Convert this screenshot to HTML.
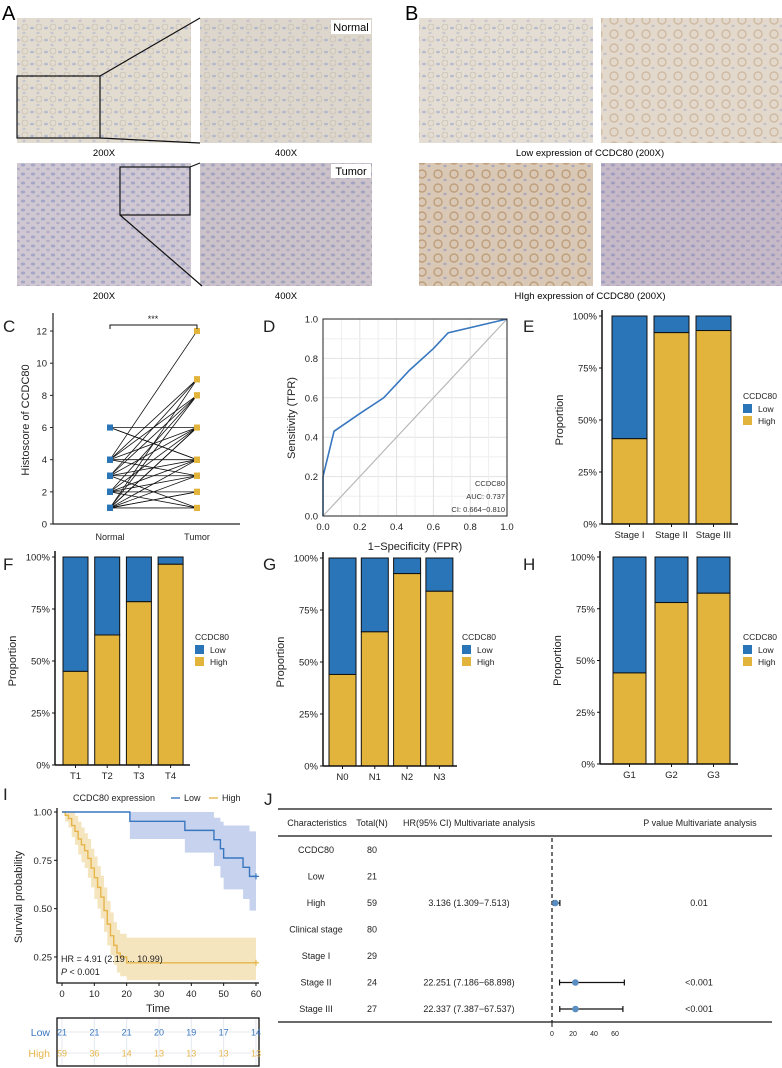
<!DOCTYPE html>
<html><head><meta charset="utf-8"><style>
html,body{margin:0;padding:0;background:#fff}
svg{display:block;font-family:"Liberation Sans",Arial,sans-serif}
</style></head><body>
<svg id="fig" width="782" height="1068" viewBox="0 0 782 1068" xmlns="http://www.w3.org/2000/svg">
<defs>
<pattern id="texN" width="14" height="12" patternUnits="userSpaceOnUse"><ellipse cx="4" cy="4" rx="2" ry="1.3" fill="#8c9ac8" opacity="0.5"/><ellipse cx="10" cy="9" rx="1.6" ry="1.2" fill="#9aa3cc" opacity="0.4"/><circle cx="11" cy="3" r="3" fill="none" stroke="#c9bfb0" stroke-width="0.8"/></pattern>
<pattern id="texT" width="10" height="9" patternUnits="userSpaceOnUse"><ellipse cx="3" cy="3" rx="2.2" ry="1.5" fill="#7a84b8" opacity="0.5"/><ellipse cx="8" cy="7" rx="1.8" ry="1.2" fill="#9089b6" opacity="0.45"/></pattern>
<pattern id="texH" width="16" height="14" patternUnits="userSpaceOnUse"><circle cx="6" cy="6" r="4" fill="none" stroke="#a4743e" stroke-width="1.4" opacity="0.5"/><ellipse cx="13" cy="12" rx="1.6" ry="1.2" fill="#7d88c0" opacity="0.5"/></pattern>
</defs>
<g id="photos">
<text x="2" y="20" font-size="20">A</text>
<text x="405" y="20" font-size="20">B</text>
<rect x="17" y="18" width="174" height="125" fill="#e2dbd0"/>
<rect x="17" y="18" width="174" height="125" fill="url(#texN)"/>
<rect x="200" y="18" width="172" height="125" fill="#ddd6cc"/>
<rect x="200" y="18" width="172" height="125" fill="url(#texN)"/>
<rect x="17" y="76" width="83" height="62" fill="none" stroke="#111" stroke-width="1.2"/>
<line x1="100" y1="76" x2="200" y2="18" stroke="#111" stroke-width="1.2"/>
<line x1="100" y1="138" x2="200" y2="143" stroke="#111" stroke-width="1.2"/>
<rect x="331" y="20" width="40" height="14" fill="#fff"/>
<text x="351" y="31" font-size="11" text-anchor="middle">Normal</text>
<text x="104" y="156" font-size="9.5" text-anchor="middle">200X</text>
<text x="286" y="156" font-size="9.5" text-anchor="middle">400X</text>
<rect x="17" y="163" width="174" height="123" fill="#cfc8d3"/>
<rect x="17" y="163" width="174" height="123" fill="url(#texT)"/>
<rect x="200" y="163" width="172" height="123" fill="#cbc3c9"/>
<rect x="200" y="163" width="172" height="123" fill="url(#texT)"/>
<rect x="120" y="167" width="70" height="48" fill="none" stroke="#111" stroke-width="1.2"/>
<line x1="190" y1="167" x2="200" y2="163" stroke="#111" stroke-width="1.2"/>
<line x1="120" y1="215" x2="202" y2="286" stroke="#111" stroke-width="1.2"/>
<rect x="331" y="164" width="40" height="14" fill="#fff"/>
<text x="351" y="175" font-size="11" text-anchor="middle">Tumor</text>
<text x="104" y="299" font-size="9.5" text-anchor="middle">200X</text>
<text x="286" y="299" font-size="9.5" text-anchor="middle">400X</text>
<rect x="419" y="18" width="174" height="125" fill="#e4ddd3"/>
<rect x="419" y="18" width="174" height="125" fill="url(#texN)"/>
<rect x="601" y="18" width="181" height="125" fill="#e2d8cc"/>
<rect x="601" y="18" width="181" height="125" fill="url(#texH)" opacity="0.6"/>
<text x="590" y="156" font-size="9.5" text-anchor="middle">Low expression of CCDC80 (200X)</text>
<rect x="419" y="163" width="174" height="123" fill="#d9c8b6"/>
<rect x="419" y="163" width="174" height="123" fill="url(#texH)"/>
<rect x="601" y="163" width="181" height="123" fill="#c6b9c8"/>
<rect x="601" y="163" width="181" height="123" fill="url(#texT)"/>
<text x="590" y="299" font-size="9.5" text-anchor="middle">HIgh expression of CCDC80 (200X)</text>
</g>
</svg>
<script>
// ---------- data ----------
const cNormal = [6,6,4,4,4,4,3,3,3,3,2,2,2,2,1,1,1,1,1,1,4,3,2,1,6,3,2,1,4,1];
const cTumor  = [6,4,12,9,8,4,9,8,6,1,8,6,3,2,9,6,4,3,2,1,6,4,4,8,4,3,1,2,3,6];
const cTicks = [0,2,4,6,8,10,12];
const rocFPR = [0,0,0.06,0.2,0.33,0.47,0.6,0.68,1];
const rocTPR = [0,0.2,0.43,0.52,0.6,0.74,0.85,0.93,1];
const rocTicks = [0,0.2,0.4,0.6,0.8,1.0];
const pctTicks = [0,0.25,0.5,0.75,1];
const eCats = ["Stage I","Stage II","Stage III"];
const eHigh = [0.41,0.92,0.93];
const fCats = ["T1","T2","T3","T4"];
const fHigh = [0.45,0.625,0.785,0.965];
const gCats = ["N0","N1","N2","N3"];
const gHigh = [0.44,0.645,0.925,0.84];
const hCats = ["G1","G2","G3"];
const hHigh = [0.44,0.78,0.825];
const kmLowT = [0,21,38,47,49,50,56,58,60];
const kmLowS = [1,0.952,0.905,0.857,0.81,0.762,0.714,0.667,0.667];
const kmLowUp = [1,1,1,0.97,0.95,0.93,0.93,0.90,0.90];
const kmLowLo = [1,0.86,0.79,0.72,0.66,0.60,0.55,0.49,0.49];
const kmHighT = [0,1,2,3,4,5,6,7,8,9,10,11,12,13,14,15,16,17,18,20,60];
const kmHighS = [1,0.983,0.966,0.93,0.90,0.86,0.83,0.80,0.76,0.71,0.66,0.61,0.56,0.49,0.42,0.36,0.31,0.27,0.25,0.22,0.22];
const kmHighUp = [1,1,1,1,0.98,0.95,0.92,0.89,0.86,0.81,0.77,0.72,0.67,0.61,0.54,0.48,0.43,0.39,0.37,0.35,0.35];
const kmHighLo = [1,0.95,0.92,0.87,0.83,0.78,0.74,0.71,0.66,0.61,0.55,0.50,0.45,0.38,0.31,0.26,0.21,0.17,0.15,0.13,0.13];
const kmTicks = [0,10,20,30,40,50,60];
const kmYTicks = [0.25,0.5,0.75,1];
const riskLow = [21,21,21,20,19,17,14];
const riskHigh = [59,36,14,13,13,13,13];
const fpChars = ["CCDC80","Low","High","Clinical stage","Stage I","Stage II","Stage III"];
const fpTotal = [80,21,59,80,29,24,27];
const fpHRText = ["","","3.136 (1.309\u22127.513)","","","22.251 (7.186\u221268.898)","22.337 (7.387\u221267.537)"];
const fpEst = [null,null,3.136,null,null,22.251,22.337];
const fpLo = [null,null,1.309,null,null,7.186,7.387];
const fpHi = [null,null,7.513,null,null,68.898,67.537];
const fpP = ["","","0.01","","","<0.001","<0.001"];
const fpTicks = [0,20,40,60];

const BLUE="#2a74b8", YEL="#e3b43c", KB="#3877c0", KY="#e6b54a";
const svg=document.getElementById('fig');
const NS="http://www.w3.org/2000/svg";
function mk(tag,a,p){const e=document.createElementNS(NS,tag);for(const k in a)e.setAttribute(k,a[k]);(p||svg).appendChild(e);return e;}
function tx(x,y,s,size,anchor,p,fill){const e=mk('text',{x:x,y:y,'font-size':size,'text-anchor':anchor||'middle',fill:fill||'#222'},p);e.textContent=s;return e;}

// ---------- panel C ----------
const gC=mk('g',{});


let t=tx(3,332,"C",17,'start',gC);


const cy=v=>524-v*16.08, cxN=110, cxT=197;
let l=mk('line',{x1:53,y1:313,x2:53,y2:524,stroke:'#222','stroke-width':1.2},gC);


l=mk('line',{x1:53,y1:524,x2:240,y2:524,stroke:'#222','stroke-width':1.2},gC);


cTicks.forEach(v=>{
  const k=mk('line',{x1:50,y1:cy(v),x2:53,y2:cy(v),stroke:'#222'},gC);
  
  
  const tt=tx(47,cy(v)+3.5,String(v),9.5,'end',gC);
  
  
});
t=tx(110,540,"Normal",9,'middle',gC);


t=tx(197,540,"Tumor",9,'middle',gC);


t=tx(0,0,"Histoscore of CCDC80",11,'middle',gC);
t.setAttribute('transform','translate(29,420) rotate(-90)');


cNormal.forEach((v,i)=>{
  const ln=mk('line',{x1:cxN,y1:cy(v),x2:cxT,y2:cy(cTumor[i]),stroke:'#111','stroke-width':0.8},gC);
  
  
});
cNormal.forEach((v,i)=>{
  const a=mk('rect',{x:cxN-3,y:cy(v)-3,width:6,height:6,fill:BLUE},gC);
  
  
  const b=mk('rect',{x:cxT-3,y:cy(cTumor[i])-3,width:6,height:6,fill:YEL},gC);
  
  
});
l=mk('path',{d:`M${cxN},329 V325 H${cxT} V329`,fill:'none',stroke:'#111','stroke-width':1},gC);


t=tx(153,322,"***",9,'middle',gC);



// ---------- panel D ----------
const gD=mk('g',{});


t=tx(263,332,"D",17,'start',gD);


const dx=v=>323+v*184, dy=v=>516-v*197;
for(let i=0;i<=10;i++){
  const v=i/10, c=i%2?'#efefef':'#e2e2e2';
  let a=mk('line',{x1:dx(v),y1:dy(0),x2:dx(v),y2:dy(1),stroke:c},gD);
  
  
  a=mk('line',{x1:dx(0),y1:dy(v),x2:dx(1),y2:dy(v),stroke:c},gD);
  
  
}
l=mk('line',{x1:dx(0),y1:dy(0),x2:dx(1),y2:dy(1),stroke:'#b8b8b8','stroke-width':1.2},gD);


l=mk('path',{d:rocFPR.map((f,i)=>(i?'L':'M')+dx(f)+','+dy(rocTPR[i])).join(' '),fill:'none',stroke:KB,'stroke-width':1.6},gD);


l=mk('rect',{x:dx(0),y:dy(1),width:184,height:197,fill:'none',stroke:'#222','stroke-width':1},gD);


rocTicks.forEach(v=>{
  let a=tx(318,dy(v)+3.5,v.toFixed(1),9.5,'end',gD);
  
  
  a=tx(dx(v),530,v.toFixed(1),9.5,'middle',gD);
  
  
});
t=tx(415,550,"1\u2212Specificity (FPR)",11,'middle',gD);


t=tx(0,0,"Sensitivity (TPR)",11,'middle',gD);
t.setAttribute('transform','translate(295,418) rotate(-90)');


[["CCDC80",486],["AUC: 0.737",499],["CI: 0.664\u22120.810",512]].forEach(s=>{
  const a=tx(505,s[1],s[0],7.5,'end',gD,'#333');
  
  
});

// ---------- stacked bars ----------
function stacked(name,label,cats,high,ax,axEnd,y0,y100,bx,bw,step,lx,ly,legX,legY){
  const g=mk('g',{});
  
  
  let a=tx(lx,ly,label,17,'start',g);
  
  
  const y=v=>y0-(y0-y100)*v;
  cats.forEach((c,i)=>{
    const x=bx+i*step;
    let r=mk('rect',{x:x,y:y(1),width:bw,height:y(high[i])-y(1),fill:BLUE,stroke:'#111','stroke-width':1},g);
    
    
    r=mk('rect',{x:x,y:y(high[i]),width:bw,height:y0-y(high[i]),fill:YEL,stroke:'#111','stroke-width':1},g);
    
    
    const k=mk('line',{x1:x+bw/2,y1:y0,x2:x+bw/2,y2:y0+3,stroke:'#111'},g);
    
    
    const tl=tx(x+bw/2,y0+14,c,9.5,'middle',g);
    
    
  });
  a=mk('line',{x1:ax,y1:y100-6,x2:ax,y2:y0,stroke:'#111','stroke-width':1.5},g);
  
  
  a=mk('line',{x1:ax,y1:y0,x2:axEnd,y2:y0,stroke:'#111','stroke-width':1.5},g);
  
  
  pctTicks.forEach(v=>{
    const k=mk('line',{x1:ax-3,y1:y(v),x2:ax,y2:y(v),stroke:'#111'},g);
    
    
    const tl=tx(ax-5,y(v)+3.5,Math.round(v*100)+'%',9.5,'end',g);
    
    
  });
  a=tx(0,0,"Proportion",11,'middle',g);
  a.setAttribute('transform',`translate(${ax-39},${(y0+y100)/2}) rotate(-90)`);
  
  
  a=tx(legX,legY,"CCDC80",8.5,'start',g);
  
  
  a=mk('rect',{x:legX,y:legY+5,width:9,height:9,fill:BLUE},g);
  
  
  a=tx(legX+15,legY+13,"Low",8.5,'start',g);
  
  
  a=mk('rect',{x:legX,y:legY+17,width:9,height:9,fill:YEL},g);
  
  
  a=tx(legX+15,legY+25,"High",8.5,'start',g);
  
  
}
stacked('panel-e-stage','E',eCats,eHigh,602,738,524,316,612,35,42,523,332,743,399);
stacked('panel-f-t-stage','F',fCats,fHigh,55,190,765,557,63,25,31.7,3,570,195,640);
stacked('panel-g-n-stage','G',gCats,gHigh,323,457,766,558,329,27,32.3,263,570,462,640);
stacked('panel-h-grade','H',hCats,hHigh,600,738,764,557,613,33,42,523,570,743,640);

// ---------- panel I ----------
const gI=mk('g',{});


t=tx(3,800,"I",17,'start',gI);


const kx=v=>62+v*3.233, ky=s=>812+(1-s)*193.3;
function stepPath(T,S){let d='M'+kx(T[0])+','+ky(S[0]);for(let i=1;i<T.length;i++){d+=' H'+kx(T[i])+' V'+ky(S[i]);}return d;}
function band(T,U,L){const n=T.length;let d='M'+kx(T[0])+','+ky(U[0]);for(let i=1;i<n;i++)d+=' H'+kx(T[i])+' V'+ky(U[i]);for(let i=n-2;i>=0;i--)d+=' V'+ky(L[i])+' H'+kx(T[i]);d+='Z';return d;}
l=mk('path',{d:band(kmHighT,kmHighUp,kmHighLo),fill:'#f3dfae',opacity:0.8},gI);


l=mk('path',{d:band(kmLowT,kmLowUp,kmLowLo),fill:'#b9c8ea',opacity:0.8},gI);


l=mk('path',{d:stepPath(kmHighT,kmHighS),fill:'none',stroke:KY,'stroke-width':1.4},gI);


l=mk('path',{d:stepPath(kmLowT,kmLowS),fill:'none',stroke:KB,'stroke-width':1.4},gI);


[[KB,kmLowS[kmLowS.length-1]],[KY,kmHighS[kmHighS.length-1]]].forEach(c=>{
  const p=mk('path',{d:`M${kx(60)-3},${ky(c[1])} h6 M${kx(60)},${ky(c[1])-3} v6`,stroke:c[0],'stroke-width':1.2},gI);
  
  
});
l=mk('path',{d:'M57,808 V983 H259',fill:'none',stroke:'#111','stroke-width':1.3},gI);


kmYTicks.forEach(v=>{
  const k=mk('line',{x1:54,y1:ky(v),x2:57,y2:ky(v),stroke:'#111'},gI);
  
  
  const tl=tx(52,ky(v)+3.5,v.toFixed(2),9.5,'end',gI);
  
  
});
kmTicks.forEach(v=>{
  const k=mk('line',{x1:kx(v),y1:983,x2:kx(v),y2:986,stroke:'#111'},gI);
  
  
  const tl=tx(kx(v),997,String(v),9.5,'middle',gI);
  
  
});
t=tx(158,1012,"Time",11,'middle',gI);


t=tx(0,0,"Survival probability",11,'middle',gI);
t.setAttribute('transform','translate(22,897) rotate(-90)');


t=tx(73,801,"CCDC80 expression",9,'start',gI);


l=mk('line',{x1:171,y1:798,x2:180,y2:798,stroke:KB,'stroke-width':1.4},gI);


t=tx(184,801,"Low",9,'start',gI);


l=mk('line',{x1:209,y1:798,x2:218,y2:798,stroke:KY,'stroke-width':1.4},gI);


t=tx(222,801,"High",9,'start',gI);


t=tx(61,962,"HR = 4.91 (2.19 ... 10.99)",9,'start',gI);


t=mk('text',{x:61,y:975,'font-size':9,fill:'#222'},gI);
t.innerHTML='<tspan font-style="italic">P</tspan> &lt; 0.001';


// risk table
kmTicks.forEach(v=>{
  const k=mk('line',{x1:kx(v),y1:1018,x2:kx(v),y2:1066,stroke:'#e4e8f0'},gI);
  
  
});
[1032,1053].forEach(yy=>{
  const k=mk('line',{x1:57,y1:yy,x2:259,y2:yy,stroke:'#e4e8f0'},gI);
  
  
});
l=mk('rect',{x:57,y:1018,width:202,height:48,fill:'none',stroke:'#111','stroke-width':1.3},gI);


riskLow.forEach((n,i)=>{
  const a=tx(kx(kmTicks[i]),1035.5,String(n),9,'middle',gI,KB);
  
  
});
riskHigh.forEach((n,i)=>{
  const a=tx(kx(kmTicks[i]),1056.5,String(n),9,'middle',gI,KY);
  
  
});
t=tx(50,1036,"Low",10.5,'end',gI,KB);


t=tx(50,1057,"High",10.5,'end',gI,KY);



// ---------- panel J ----------
const gJ=mk('g',{});


t=tx(264,805,"J",17,'start',gJ);


const fx=v=>552+v*1.05, rowY=i=>850+i*26.5;
[809,836,1022].forEach(yy=>{
  const a=mk('line',{x1:278,y1:yy,x2:772,y2:yy,stroke:'#111','stroke-width':1.2},gJ);
  
  
});
[["Characteristics",317],["Total(N)",372],["HR(95% CI) Multivariate analysis",469],["P value Multivariate analysis",700]].forEach(h=>{
  const a=tx(h[1],826,h[0],9,'middle',gJ);
  
  
});
l=mk('line',{x1:552,y1:838,x2:552,y2:1022,stroke:'#111','stroke-width':1.2,'stroke-dasharray':'4,3'},gJ);


fpChars.forEach((c,i)=>{
  const y=rowY(i)+3;
  let a=tx(316,y,c,9,'middle',gJ);
  
  
  a=tx(372,y,String(fpTotal[i]),9,'middle',gJ);
  
  
  if(fpHRText[i]){
    a=tx(469,y,fpHRText[i],9,'middle',gJ);
    
    
  }
  if(fpP[i]){
    a=tx(699,y,fpP[i],9,'middle',gJ);
    
    
  }
  if(fpEst[i]!==null){
    const yy=rowY(i);
    a=mk('path',{d:`M${fx(fpLo[i])},${yy-3} v6 M${fx(fpLo[i])},${yy} H${fx(fpHi[i])} M${fx(fpHi[i])},${yy-3} v6`,stroke:'#111','stroke-width':1.2,fill:'none'},gJ);
    
    
    a=mk('circle',{cx:fx(fpEst[i]),cy:yy,r:3.3,fill:'#5a8ec0'},gJ);
    
    
  }
});
l=mk('line',{x1:552,y1:1022,x2:552,y2:1027,stroke:'#111'},gJ);


fpTicks.forEach(v=>{
  const a=tx(fx(v),1036,String(v),7,'middle',gJ);
  
  
});
</script>
</body></html>
